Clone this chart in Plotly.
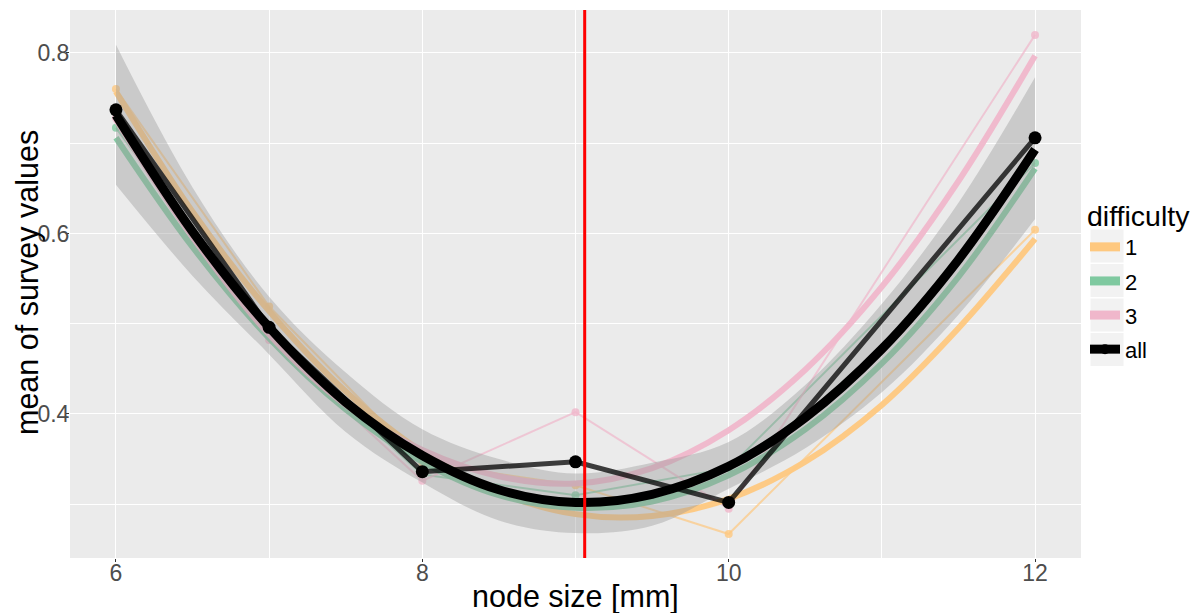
import plotly.graph_objects as go

# ---------------- data ----------------
node_size = [6, 7, 8, 9, 10, 12]
diff1 = [0.760, 0.519, 0.346, 0.321, 0.267, 0.604]
diff2 = [0.717, 0.487, 0.333, 0.310, 0.340, 0.678]
diff3 = [0.728, 0.482, 0.326, 0.402, 0.295, 0.820]
diff_all = [0.737, 0.496, 0.336, 0.347, 0.302, 0.706]

smooth_x = [6, 6.5, 7, 7.5, 8, 8.5, 9, 9.5, 10, 10.5, 11, 11.5, 12]
smooth1 = [0.757, 0.624, 0.514, 0.425, 0.358, 0.313, 0.289, 0.287, 0.306, 0.347, 0.410, 0.495, 0.594]
smooth2 = [0.706, 0.585, 0.484, 0.405, 0.347, 0.310, 0.296, 0.303, 0.332, 0.383, 0.456, 0.552, 0.672]
smooth3 = [0.726, 0.596, 0.488, 0.410, 0.360, 0.331, 0.323, 0.340, 0.382, 0.449, 0.541, 0.658, 0.797]
smooth_all = [0.731, 0.602, 0.496, 0.413, 0.354, 0.316, 0.302, 0.311, 0.342, 0.396, 0.472, 0.571, 0.693]
ribbon_lo = [0.654, 0.553, 0.466, 0.380, 0.324, 0.282, 0.268, 0.276, 0.317, 0.362, 0.424, 0.510, 0.616]
ribbon_hi = [0.809, 0.651, 0.530, 0.446, 0.383, 0.350, 0.334, 0.346, 0.369, 0.432, 0.522, 0.634, 0.773]

optimum_size = 9.06

groups = ["1", "2", "3"]
group_data = [diff1, diff2, diff3]
group_smooth = [smooth1, smooth2, smooth3]
group_rgb = [(254, 200, 127), (127, 201, 160), (240, 183, 203)]


def rgba(c, a):
    return "rgba(%d,%d,%d,%.2f)" % (c[0], c[1], c[2], a)


fig = go.Figure()

# thin per-difficulty lines with points
for name, ys, c in zip(groups, group_data, group_rgb):
    fig.add_trace(go.Scatter(
        x=node_size, y=ys, mode="lines+markers",
        line=dict(color=rgba(c, 0.7), width=2),
        marker=dict(color=rgba(c, 0.8), size=8),
        showlegend=False, hoverinfo="skip"))

# per-difficulty smooth curves
for name, ys, c in zip(groups, group_smooth, group_rgb):
    fig.add_trace(go.Scatter(
        x=smooth_x, y=ys, mode="lines", line_shape="spline",
        line=dict(color=rgba(c, 0.95), width=6),
        showlegend=False, hoverinfo="skip"))

# confidence ribbon for overall smooth
fig.add_trace(go.Scatter(
    x=smooth_x, y=ribbon_lo, mode="lines", line_shape="spline",
    line=dict(width=0, color="rgba(0,0,0,0)"), showlegend=False, hoverinfo="skip"))
fig.add_trace(go.Scatter(
    x=smooth_x, y=ribbon_hi, mode="lines", line_shape="spline",
    line=dict(width=0, color="rgba(0,0,0,0)"), fill="tonexty",
    fillcolor="rgba(153,153,153,0.4)", showlegend=False, hoverinfo="skip"))

# overall smooth
fig.add_trace(go.Scatter(
    x=smooth_x, y=smooth_all, mode="lines", line_shape="spline",
    line=dict(color="black", width=9), showlegend=False, hoverinfo="skip"))

# overall means
fig.add_trace(go.Scatter(
    x=node_size, y=diff_all, mode="lines+markers",
    line=dict(color="rgba(0,0,0,0.75)", width=5),
    marker=dict(color="black", size=13),
    showlegend=False, hoverinfo="skip"))

# legend entries
for name, c in zip(groups, group_rgb):
    fig.add_trace(go.Scatter(
        x=[None], y=[None], mode="lines", name=name, legendgroup=name,
        line=dict(color=rgba(c, 1.0), width=9)))
fig.add_trace(go.Scatter(
    x=[None], y=[None], mode="lines+markers", name="all", legendgroup="all",
    line=dict(color="black", width=9), marker=dict(color="black", size=10)))

# vertical optimum line
fig.add_shape(type="line", x0=optimum_size, x1=optimum_size, xref="x",
              y0=0, y1=1, yref="paper", line=dict(color="red", width=3),
              layer="above")

# page offset (browser body margin) compensation
OFF = 8
W, H = 1203 - OFF, 613 - OFF
L, T = 70 - OFF, 10 - OFF
R = W - (1081 - OFF)
B = H - (558 - OFF)
pw, ph = W - L - R, H - T - B


def px(xs):
    return (xs - OFF - L) / pw


def py(ys):
    return (H - B - (ys - OFF)) / ph


# legend key backgrounds
for top in [229, 263.5, 298, 332.5]:
    fig.add_shape(type="rect", xref="paper", yref="paper",
                  x0=px(1090), x1=px(1124), y0=py(top + 34), y1=py(top),
                  fillcolor="#F2F2F2", line=dict(color="white", width=1),
                  layer="below")

# axis titles
fig.add_annotation(text="node size [mm]", xref="paper", yref="paper",
                   x=px(575.5), y=py(596), xanchor="center", yanchor="middle",
                   showarrow=False, font=dict(size=30.5, color="black"))
fig.add_annotation(text="mean of survey values", xref="paper", yref="paper",
                   x=px(27), y=py(283), xanchor="center", yanchor="middle",
                   textangle=-90, showarrow=False, font=dict(size=30.5, color="black"))

fig.update_layout(
    width=W, height=H,
    margin=dict(l=L, r=R, t=T, b=B, autoexpand=False),
    paper_bgcolor="white", plot_bgcolor="#EBEBEB",
    font=dict(family="Liberation Sans, Arial, sans-serif", color="black"),
    xaxis=dict(
        range=[5.7, 12.3], tickvals=[6, 8, 10, 12], ticktext=["6", "8", "10", "12"],
        showgrid=True, gridcolor="white", gridwidth=1.2, zeroline=False,
        ticks="outside", ticklen=3, tickcolor="#333333", tickwidth=1,
        tickfont=dict(size=23, color="#4D4D4D"), automargin=False,
        ticklabelstandoff=-9,
        minor=dict(tickvals=[7, 9, 11], showgrid=True, gridcolor="white", gridwidth=0.5, ticks=""),
    ),
    yaxis=dict(
        range=[0.2404, 0.8476], tickvals=[0.4, 0.6, 0.8], ticktext=["0.4", "0.6", "0.8"],
        showgrid=True, gridcolor="white", gridwidth=1.2, zeroline=False,
        ticks="outside", ticklen=3, tickcolor="#333333", tickwidth=1,
        tickfont=dict(size=23, color="#4D4D4D"), automargin=False,
        ticklabelstandoff=-8,
        minor=dict(tickvals=[0.3, 0.5, 0.7], showgrid=True, gridcolor="white", gridwidth=0.5, ticks=""),
    ),
    legend=dict(
        x=px(1085), xanchor="left", y=py(189), yanchor="top",
        title=dict(text="difficulty", font=dict(size=28.5, color="black")),
        font=dict(size=22, color="black"), bgcolor="rgba(0,0,0,0)",
        tracegroupgap=2.5, itemwidth=30,
    ),
)

fig.write_html("out.html")
